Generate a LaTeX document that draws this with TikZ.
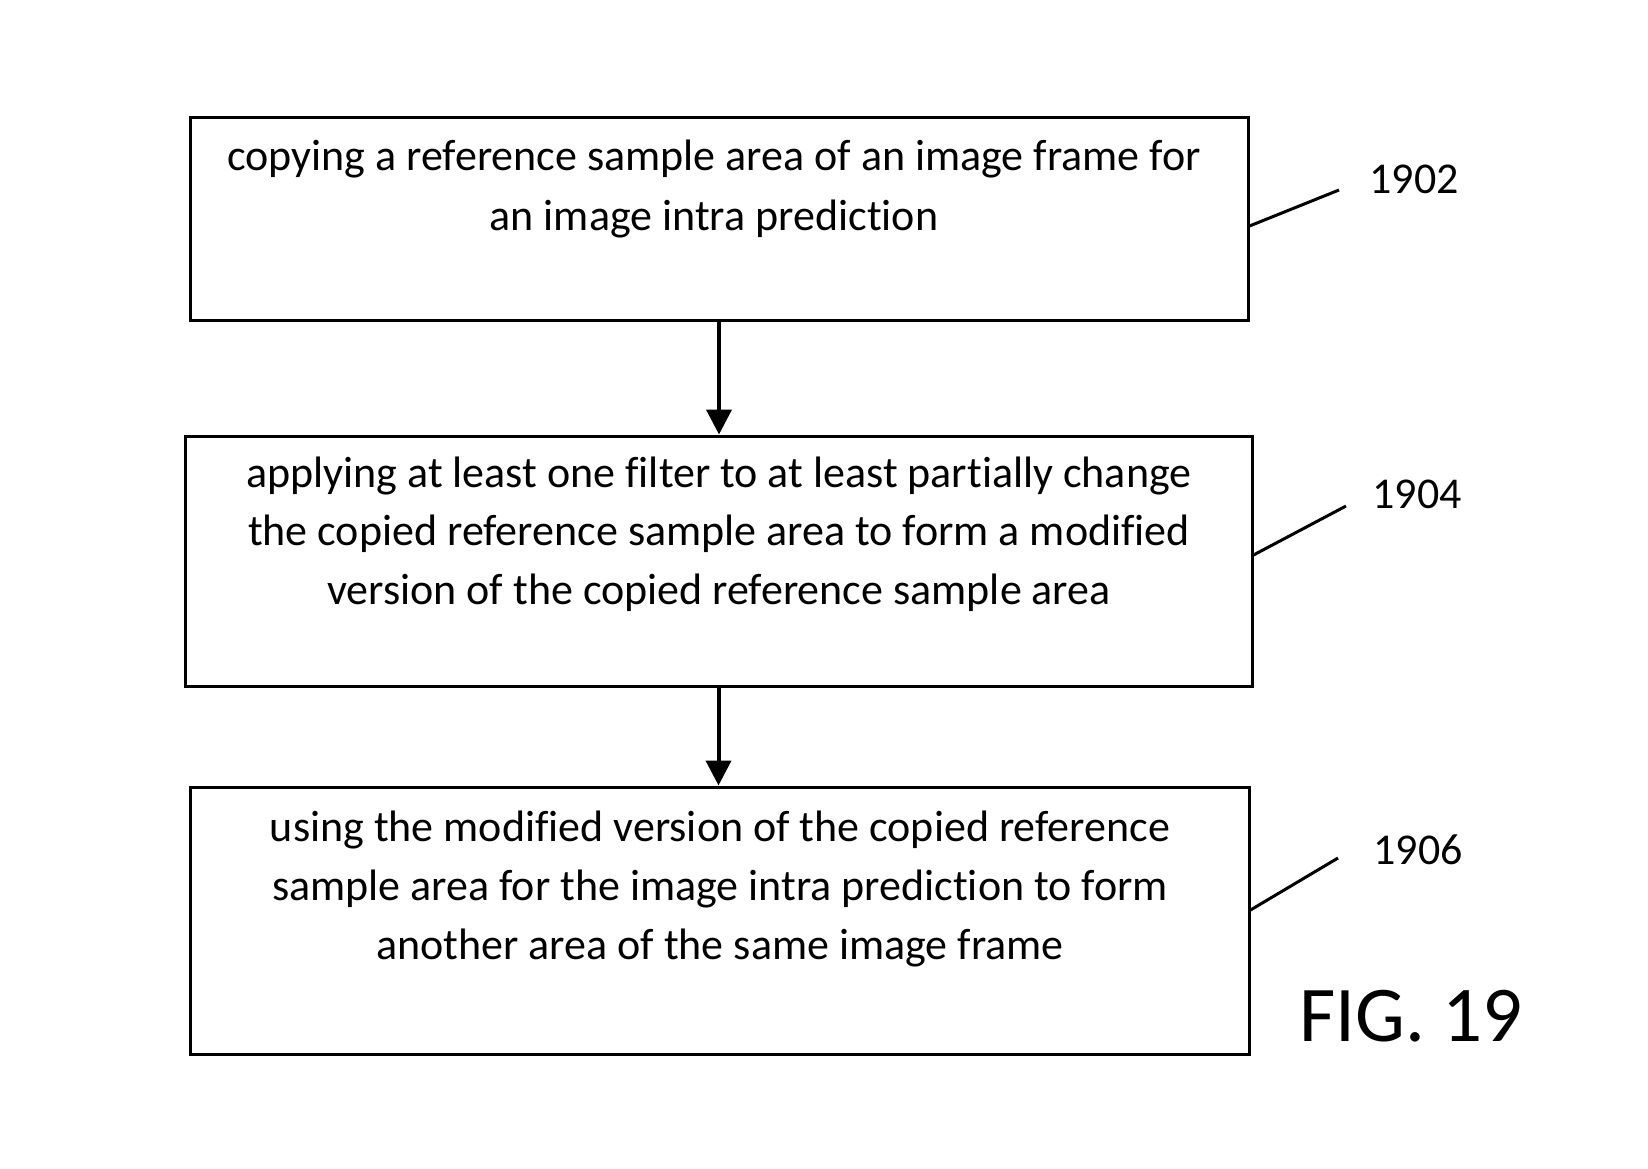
\documentclass[tikz,border=0pt]{standalone}
\usepackage{fontspec}
\setmainfont[Ligatures=NoCommon]{Carlito}
\usetikzlibrary{arrows.meta}
\begin{document}
\begin{tikzpicture}[x=1pt,y=-1pt,
  stepbox/.style={draw=black, line width=3pt, fill=none, inner sep=0pt},
  boxtext/.style={anchor=north, align=center, inner sep=0pt},
  reflabel/.style={anchor=base, inner sep=0pt, font=\fontsize{44}{50}\selectfont},
  leader/.style={line width=3pt},
  flow/.style={line width=4pt, -{Triangle[width=25pt,length=25pt]}}]
\useasboundingbox (0,0) rectangle (1648,1168);
% boxes
\node[stepbox, minimum width=1058pt, minimum height=203pt] (b1) at (719,218.5) {};
\node[stepbox, minimum width=1067pt, minimum height=250pt] (b2) at (718.5,561) {};
\node[stepbox, minimum width=1059pt, minimum height=267pt] (b3) at (719.5,920.5) {};
% texts
\node[boxtext, font=\fontsize{44}{60}\selectfont] (t1) at (714,134)
  {\rule{0pt}{36pt}copying a reference sample area of an image frame for\\an image intra prediction};
\node[boxtext, font=\fontsize{44}{58.5}\selectfont] (t2) at (719,451)
  {\rule{0pt}{36pt}applying at least one filter to at least partially change\\the copied reference sample area to form a modified\\version of the copied reference sample area};
\node[boxtext, font=\fontsize{44}{59}\selectfont] (t3) at (720,805)
  {\rule{0pt}{36pt}using the modified version of the copied reference\\sample area for the image intra prediction to form\\another area of the same image frame};
% arrows
\draw[flow] (b1.south) -- (b1.south |- b2.north);
\draw[flow] (b2.south) -- (b2.south |- b3.north);
% reference labels
\node[reflabel] (l1) at (1414,193) {1902};
\node[reflabel] (l2) at (1417,508) {1904};
\node[reflabel] (l3) at (1418,864) {1906};
\coordinate (e1) at (1339,190);
\coordinate (e2) at (1346,506);
\coordinate (e3) at (1338,858);
\draw[leader] (b1.east |- 0,226) -- (e1);
\draw[leader] (b2.east |- 0,555) -- (e2);
\draw[leader] (b3.east |- 0,910) -- (e3);
% figure caption
\node[anchor=base, inner sep=0pt, font=\fontsize{79}{84}\selectfont] (fig) at (1411,1041) {FIG. 19};
\end{tikzpicture}
\end{document}
